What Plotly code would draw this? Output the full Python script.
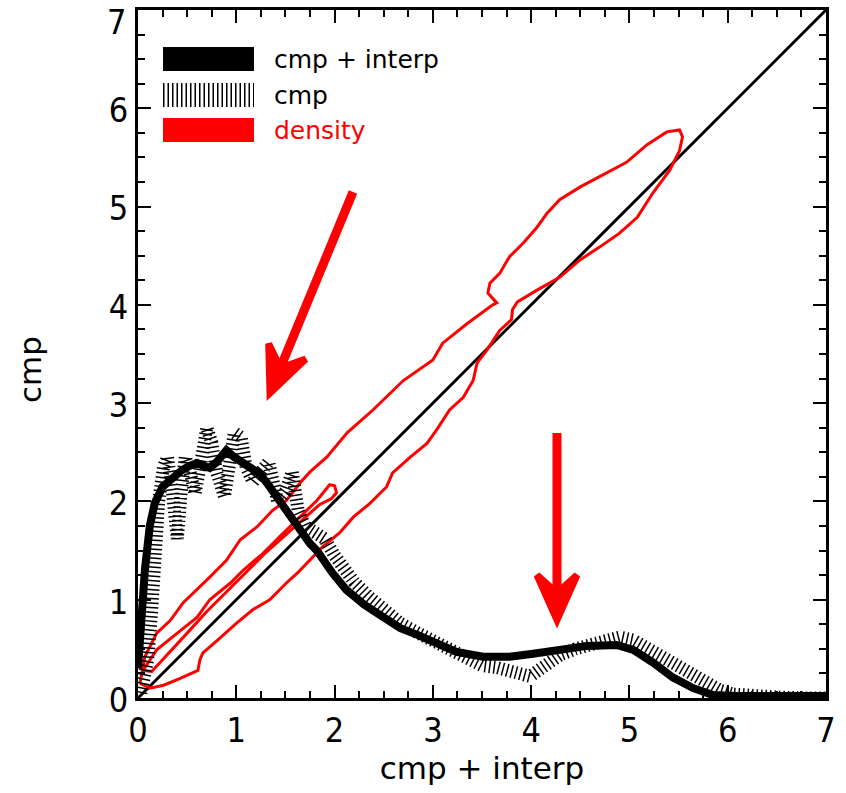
import plotly.graph_objects as go

# ---- data -------------------------------------------------------------
# combined (cmp + interp) curve
interp_x = [0.0, 0.03, 0.07, 0.12, 0.17, 0.25, 0.36, 0.45, 0.52, 0.6, 0.67, 0.73, 0.8, 0.9,
            0.98, 1.07, 1.17, 1.24, 1.31, 1.4, 1.48, 1.55, 1.62, 1.68, 1.75, 1.82, 1.9, 1.98,
            2.12, 2.3, 2.5, 2.67, 2.85, 3.0, 3.24, 3.51, 3.78, 4.02, 4.26, 4.57, 4.87, 5.04,
            5.24, 5.44, 5.65, 5.85, 6.09, 6.4, 6.7, 7.0]
interp_y = [0.3, 0.75, 1.3, 1.75, 1.98, 2.15, 2.25, 2.32, 2.36, 2.39, 2.36, 2.34, 2.4, 2.52,
            2.45, 2.39, 2.34, 2.28, 2.19, 2.06, 1.94, 1.84, 1.74, 1.64, 1.57, 1.5, 1.38, 1.27,
            1.1, 0.95, 0.82, 0.71, 0.64, 0.57, 0.47, 0.42, 0.42, 0.45, 0.49, 0.53, 0.54, 0.49,
            0.36, 0.21, 0.1, 0.03, 0.02, 0.02, 0.02, 0.02]

# cmp-only curve
cmp_x = [0.03, 0.1, 0.14, 0.17, 0.21, 0.26, 0.3, 0.35, 0.4, 0.44, 0.48, 0.53, 0.58, 0.64,
         0.7, 0.75, 0.8, 0.88, 0.93, 0.98, 1.05, 1.1, 1.17, 1.25, 1.33, 1.42, 1.5, 1.57,
         1.63, 1.7, 1.8, 1.9, 2.0, 2.1, 2.2, 2.35, 2.5, 2.67, 2.85, 3.0, 3.17, 3.34, 3.5,
         3.65, 3.82, 3.99, 4.1, 4.2, 4.3, 4.45, 4.6, 4.75, 4.9, 5.04, 5.15, 5.24, 5.35,
         5.51, 5.65, 5.79, 5.92, 6.05, 6.2, 6.5, 6.8, 7.0]
cmp_y = [0.05, 0.4, 0.9, 1.5, 2.0, 2.35, 2.45, 2.1, 1.62, 2.1, 2.45, 2.3, 2.08, 2.4,
         2.75, 2.6, 2.3, 2.05, 2.4, 2.7, 2.65, 2.35, 2.2, 2.3, 2.4, 2.0, 2.1, 2.3,
         1.9, 1.75, 1.7, 1.62, 1.45, 1.3, 1.18, 1.03, 0.9, 0.76, 0.66, 0.58, 0.48, 0.38, 0.33,
         0.31, 0.27, 0.22, 0.3, 0.38, 0.44, 0.5, 0.54, 0.58, 0.62, 0.59, 0.53, 0.46, 0.4,
         0.3, 0.22, 0.15, 0.08, 0.04, 0.02, 0.01, 0.0, 0.0]

# density contours (outer level and inner level)
outer_x = [0.02, 0.07, 0.19, 0.33, 0.46, 0.6, 0.73, 0.9, 1.04, 1.21, 1.37, 1.51, 1.65, 1.75,
           1.92, 2.13, 2.39, 2.7, 3.0, 3.1, 3.35, 3.61, 3.65, 3.56, 3.58, 3.68, 3.78, 3.92,
           4.06, 4.16, 4.29, 4.5, 4.73, 4.97, 5.18, 5.38, 5.51, 5.54,
           5.51, 5.41, 5.24, 5.08, 4.9, 4.7, 4.5, 4.29, 4.06, 3.86, 3.81, 3.8, 3.68, 3.55,
           3.45, 3.41, 3.31, 3.17, 3.04, 2.94, 2.77, 2.59, 2.53, 2.36, 2.19, 2.05, 1.88,
           1.75, 1.62, 1.51, 1.34, 1.17, 1.0, 0.81, 0.66, 0.63, 0.61, 0.43, 0.26, 0.12, 0.02]
outer_y = [0.15, 0.42, 0.66, 0.79, 0.97, 1.1, 1.23, 1.4, 1.61, 1.74, 1.91, 2.01, 2.19, 2.3,
           2.45, 2.7, 2.93, 3.23, 3.44, 3.61, 3.81, 4.0, 4.02, 4.12, 4.22, 4.32, 4.49, 4.63,
           4.79, 4.93, 5.07, 5.2, 5.32, 5.45, 5.63, 5.76, 5.78, 5.71,
           5.57, 5.37, 5.14, 4.89, 4.73, 4.59, 4.46, 4.28, 4.15, 4.03, 3.95, 3.85, 3.74, 3.54,
           3.41, 3.23, 3.06, 2.93, 2.73, 2.59, 2.45, 2.29, 2.15, 1.98, 1.84, 1.68, 1.54,
           1.4, 1.27, 1.17, 1.0, 0.9, 0.76, 0.59, 0.46, 0.39, 0.28, 0.2, 0.13, 0.1, 0.15]

inner_x = [0.05, 0.19, 0.4, 0.6, 0.73, 0.94, 1.07, 1.27, 1.44, 1.65, 1.82, 1.95, 2.0, 2.02,
           1.97, 1.85, 1.68, 1.5, 1.3, 1.1, 0.9, 0.7, 0.5, 0.3, 0.14, 0.05]
inner_y = [0.28, 0.49, 0.66, 0.82, 1.0, 1.17, 1.3, 1.47, 1.64, 1.84, 2.01, 2.17, 2.16, 2.09,
           2.03, 1.97, 1.82, 1.66, 1.48, 1.28, 1.08, 0.88, 0.66, 0.44, 0.27, 0.28]

diag = [0, 7]

legend_labels = ["cmp + interp", "cmp", "density"]
tick_vals = [0, 1, 2, 3, 4, 5, 6, 7]
tick_text = [str(v) for v in tick_vals]

# ---- geometry helpers (plot area is 688 px square, 0..7 on both axes) --
X0, Y0, PPU = 138.0, 698.0, 688.0 / 7.0


def dx(px):
    return (px - X0) / PPU


def dy(py):
    return (Y0 - py) / PPU


RED = "#ff0000"
HATCH = "1.5px,3px"
TICK_FAMILY = "Liberation Sans Narrow, DejaVu Sans Condensed, sans-serif"

fig = go.Figure()

fig.add_trace(go.Scatter(x=diag, y=diag, mode="lines",
                         line=dict(color="black", width=3), hoverinfo="skip"))
fig.add_trace(go.Scatter(x=outer_x, y=outer_y, mode="lines",
                         line=dict(color=RED, width=3), hoverinfo="skip"))
fig.add_trace(go.Scatter(x=inner_x, y=inner_y, mode="lines",
                         line=dict(color=RED, width=3), hoverinfo="skip"))
fig.add_trace(go.Scatter(x=cmp_x, y=cmp_y, mode="lines",
                         line=dict(color="black", width=13, dash=HATCH), hoverinfo="skip"))
fig.add_trace(go.Scatter(x=interp_x, y=interp_y, mode="lines",
                         line=dict(color="black", width=8), hoverinfo="skip"))

shapes = []
annotations = []

# legend swatches
sw_x0, sw_x1 = dx(163), dx(254)
shapes.append(dict(type="rect", xref="x", yref="y", x0=sw_x0, x1=sw_x1,
                   y0=dy(71), y1=dy(47), fillcolor="black", line=dict(width=0)))
shapes.append(dict(type="line", xref="x", yref="y", x0=sw_x0, x1=sw_x1,
                   y0=dy(95), y1=dy(95), line=dict(color="black", width=24, dash=HATCH)))
shapes.append(dict(type="rect", xref="x", yref="y", x0=sw_x0, x1=sw_x1,
                   y0=dy(142), y1=dy(118), fillcolor=RED, line=dict(width=0)))
for label, py, col in zip(legend_labels, [59, 95, 130], ["black", "black", RED]):
    annotations.append(dict(x=dx(272), y=dy(py), xref="x", yref="y", text=label,
                            showarrow=False, xanchor="left", yanchor="middle",
                            font=dict(family="DejaVu Sans", size=25, color=col)))

# y-axis title, placed left of the tick labels
annotations.append(dict(x=(30 - X0) / 688.0, y=(Y0 - 370) / 688.0,
                        xref="paper", yref="paper", text="cmp",
                        showarrow=False, textangle=-90, xanchor="center", yanchor="middle",
                        font=dict(family="DejaVu Sans", size=31, color="black")))

# top y tick label sits against the page edge, so it is anchored from the top
annotations.append(dict(x=(128 - X0) / 688.0, y=(Y0 - 0) / 688.0,
                        xref="paper", yref="paper", text=tick_text[-1],
                        showarrow=False, xanchor="right", yanchor="top",
                        font=dict(family=TICK_FAMILY, size=34, color="black")))


# red arrows
def arrow(sx, sy, tx, ty, head_len=45.0, half_w=20.0):
    vx, vy = tx - sx, ty - sy
    n = (vx * vx + vy * vy) ** 0.5
    ux, uy = vx / n, vy / n
    px_, py_ = -uy, ux
    bx, by = tx - head_len * ux, ty - head_len * uy
    w1 = (bx + half_w * px_, by + half_w * py_)
    w2 = (bx - half_w * px_, by - half_w * py_)
    notch = (tx - 0.6 * head_len * ux, ty - 0.6 * head_len * uy)
    shapes.append(dict(type="line", xref="x", yref="y", x0=dx(sx), y0=dy(sy),
                       x1=dx(notch[0]), y1=dy(notch[1]),
                       line=dict(color=RED, width=9)))
    path = "M {} {} L {} {} L {} {} L {} {} Z".format(
        dx(w1[0]), dy(w1[1]), dx(tx), dy(ty), dx(w2[0]), dy(w2[1]),
        dx(notch[0]), dy(notch[1]))
    shapes.append(dict(type="path", xref="x", yref="y", path=path,
                       fillcolor=RED, line=dict(color=RED, width=7)))


arrow(353, 192, 270, 393)
arrow(557, 433, 557, 620)

tick_font = dict(family=TICK_FAMILY, size=34, color="black")
axis_common = dict(range=[0, 7], tickmode="array", tickvals=tick_vals,
                   ticks="inside", ticklen=13, tickwidth=2, tickcolor="black",
                   minor=dict(ticks="inside", ticklen=7, tickwidth=2, dtick=0.25,
                              tickcolor="black", showgrid=False),
                   showline=True, linewidth=3, linecolor="black", mirror="ticks",
                   showgrid=False, zeroline=False, tickfont=tick_font,
                   automargin=False)

fig.update_layout(
    width=846, height=793,
    margin=dict(l=138, r=20, t=10, b=95),
    paper_bgcolor="white", plot_bgcolor="white",
    showlegend=False,
    xaxis=dict(**axis_common, ticktext=tick_text,
               title=dict(text="cmp + interp", standoff=8,
                          font=dict(family="DejaVu Sans", size=31, color="black"))),
    yaxis=dict(**axis_common, ticktext=tick_text[:-1] + [""], ticklabelshift=2),
    shapes=shapes,
    annotations=annotations,
)

fig.write_html("out.html")
